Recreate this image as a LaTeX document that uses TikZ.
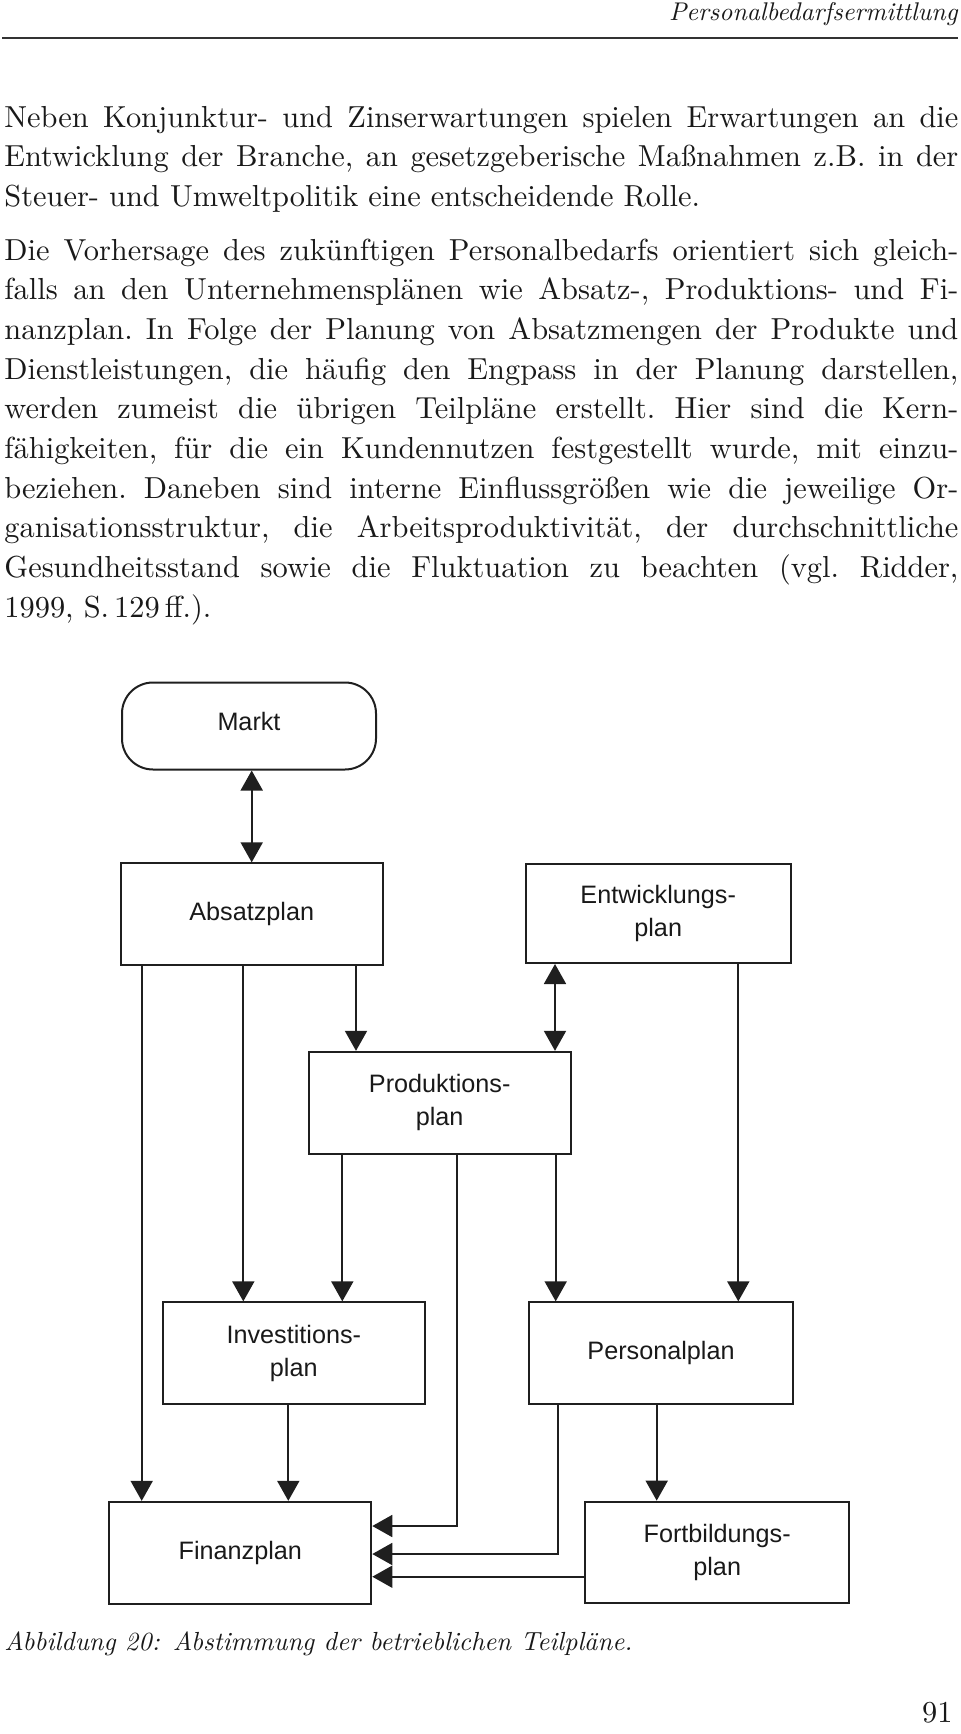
\documentclass[tikz,border=0pt]{standalone}
\usepackage{fontspec}
\newfontfamily\diagfont{Liberation Sans}
\newfontfamily\bodyfam{lmroman10-regular.otf}
\newfontfamily\itfam{lmroman10-italic.otf}
\usetikzlibrary{arrows.meta}
\newcommand{\bodyfnt}{\bodyfam\fontsize{15.2}{19.6}\selectfont\frenchspacing}
\newcommand{\jline}[1]{\makebox[477pt][s]{#1}}
\begin{document}
\begin{tikzpicture}[x=0.5pt,y=-0.5pt,
  box/.style={draw=black!88, line width=1pt, minimum height=50.85pt, inner sep=0pt,
    align=center, font=\diagfont\fontsize{12.6}{16.5}\selectfont, text=black!90},
  con/.style={line width=0.9pt, draw=black!88},
  arr/.style={con, -{Triangle[width=11pt,length=10pt]}},
  darr/.style={con, {Triangle[width=11pt,length=10pt]}-{Triangle[width=11pt,length=10pt]}},
  txt/.style={anchor=base west, inner sep=0pt, font=\bodyfnt, text=black!90},
  ital/.style={inner sep=0pt, font=\itfam\fontsize{12.8}{16}\selectfont\frenchspacing, text=black!90}
]
\useasboundingbox (0,0) rectangle (960,1734);

% header
\node[ital, anchor=base east] (head) at (958,21) {Personalbedarfsermittlung};
\draw[line width=1pt, black!80] (2,38.5) -- (958,38.5);

% paragraph 1
\node[txt] (a1) at (4,127) {\jline{Neben Konjunktur- und Zinserwartungen spielen Erwartungen an die}};
\node[txt] (a2) at (4,166.7) {\jline{Entwicklung der Branche, an gesetzgeberische Maßnahmen z.B. in der}};
\node[txt] (a3) at (4,206.4) {Steuer- und Umweltpolitik eine entscheidende Rolle.};

% paragraph 2
\node[txt] (b1) at (4,260) {\jline{Die Vorhersage des zukünftigen Personalbedarfs orientiert sich gleich-}};
\node[txt] (b2) at (4,299.7) {\jline{falls an den Unternehmensplänen wie Absatz-, Produktions- und Fi-}};
\node[txt] (b3) at (4,339.4) {\jline{nanzplan. In Folge der Planung von Absatzmengen der Produkte und}};
\node[txt] (b4) at (4,379.1) {\jline{Dienstleistungen, die häufig den Engpass in der Planung darstellen,}};
\node[txt] (b5) at (4,418.8) {\jline{werden zumeist die übrigen Teilpläne erstellt. Hier sind die Kern-}};
\node[txt] (b6) at (4,458.5) {\jline{fähigkeiten, für die ein Kundennutzen festgestellt wurde, mit einzu-}};
\node[txt] (b7) at (4,498.2) {\jline{beziehen. Daneben sind interne Einflussgrößen wie die jeweilige Or-}};
\node[txt] (b8) at (4,537.9) {\jline{ganisationsstruktur, die Arbeitsproduktivität, der durchschnittliche}};
\node[txt] (b9) at (4,577.6) {\jline{Gesundheitsstand sowie die Fluktuation zu beachten (vgl. Ridder,}};
\node[txt] (b10) at (4,617.3) {1999, S.\,129\,ff.).};

% diagram boxes
\node[box, rounded corners=15.5pt, minimum width=127pt, minimum height=43.5pt, text depth=5pt] (markt) at (249,726) {Markt};
\node[box, minimum width=131pt] (absatz) at (251.7,914.2) {Absatzplan};
\node[box, minimum width=132.5pt, minimum height=49.5pt] (entw) at (658.2,913.5) {Entwicklungs-\\plan};
\node[box, minimum width=131pt] (prod) at (439.7,1102.7) {Produktions-\\plan};
\node[box, minimum width=131pt] (invest) at (293.8,1353.2) {Investitions-\\plan};
\node[box, minimum width=132.3pt] (personal) at (661,1353.2) {Personalplan};
\node[box, minimum width=131pt] (finanz) at (240.3,1552.7) {Finanzplan};
\node[box, minimum width=132.2pt] (fortb) at (717.2,1552.5) {Fortbildungs-\\plan};

% connectors
\draw[darr] (absatz.north |- markt.south) -- (absatz.north);
\draw[arr] (141.7,0 |- absatz.south) -- (141.7,0 |- finanz.north);
\draw[arr] (243.3,0 |- absatz.south) -- (243.3,0 |- invest.north);
\draw[arr] (356,0 |- absatz.south) -- (356,0 |- prod.north);
\draw[darr] (555,0 |- entw.south) -- (555,0 |- prod.north);
\draw[arr] (738.3,0 |- entw.south) -- (738.3,0 |- personal.north);
\draw[arr] (342.3,0 |- prod.south) -- (342.3,0 |- invest.north);
\draw[arr] (457,0 |- prod.south) -- (457,1526) -- (finanz.east |- 0,1526);
\draw[arr] (555.7,0 |- prod.south) -- (555.7,0 |- personal.north);
\draw[arr] (288.3,0 |- invest.south) -- (288.3,0 |- finanz.north);
\draw[arr] (558.3,0 |- personal.south) -- (558.3,1554) -- (finanz.east |- 0,1554);
\draw[arr] (656.7,0 |- personal.south) -- (656.7,0 |- fortb.north);
\draw[arr] (fortb.west |- 0,1576.7) -- (finanz.east |- 0,1576.7);

% caption and page number
\node[ital, anchor=base west, font=\itfam\fontsize{13.1}{16}\selectfont] (cap) at (4,1650) {Abbildung 20:\enspace Abstimmung der betrieblichen Teilpläne.};
\node[inner sep=0pt, anchor=base east, font=\bodyfnt, text=black!90] (pnum) at (953,1722) {91};
\end{tikzpicture}
\end{document}
